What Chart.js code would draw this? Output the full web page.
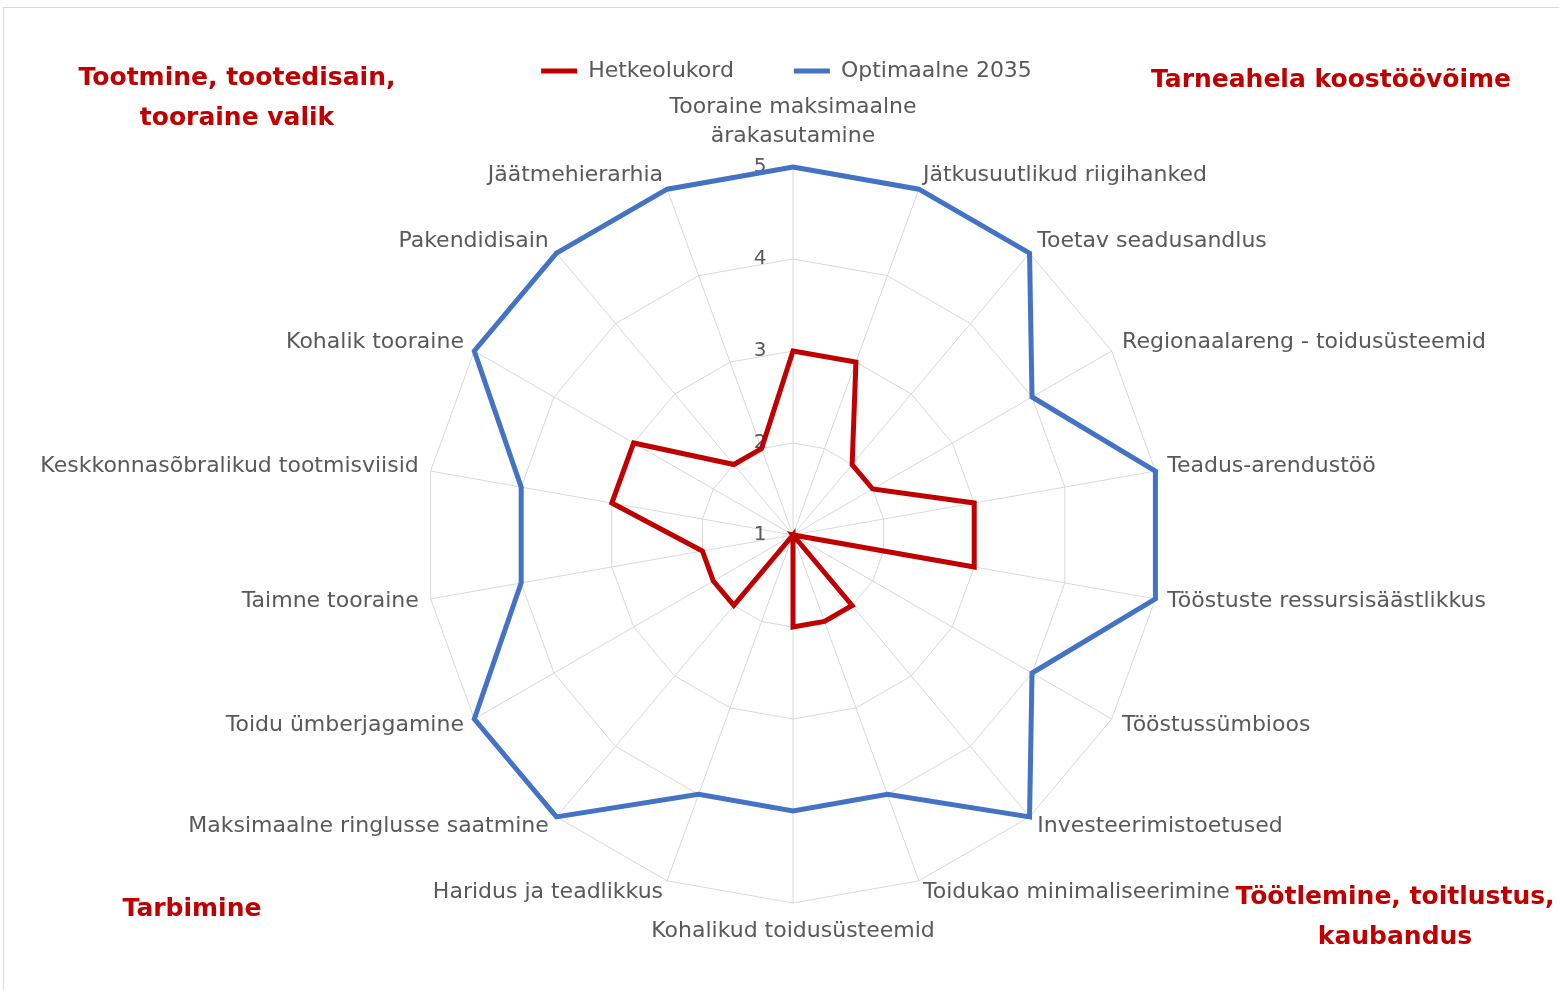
<!DOCTYPE html>
<html><head><meta charset="utf-8">
<script src="https://cdn.jsdelivr.net/npm/chart.js@4"></script>
<style>
html,body{margin:0;padding:0;background:#fff;}
#wrap{position:relative;width:1559px;height:990px;overflow:hidden;background:#fff;}
#frame{position:absolute;left:3px;top:7px;width:1600px;height:1000px;border:1px solid #d9d9d9;box-sizing:border-box;}
canvas{position:absolute;left:0;top:0;}
</style></head><body>
<div id="wrap"><div id="frame"></div><canvas id="c" width="1559" height="990"></canvas></div>
<script>
// ---------- data ----------
const categories = [
  ["Tooraine maksimaalne", "ärakasutamine"],
  "Jätkusuutlikud riigihanked",
  "Toetav seadusandlus",
  "Regionaalareng - toidusüsteemid",
  "Teadus-arendustöö",
  "Tööstuste ressursisäästlikkus",
  "Tööstussümbioos",
  "Investeerimistoetused",
  "Toidukao minimaliseerimine",
  "Kohalikud toidusüsteemid",
  "Haridus ja teadlikkus",
  "Maksimaalne ringlusse saatmine",
  "Toidu ümberjagamine",
  "Taimne tooraine",
  "Keskkonnasõbralikud tootmisviisid",
  "Kohalik tooraine",
  "Pakendidisain",
  "Jäätmehierarhia"
];
const hetkeolukord   = [3, 3, 2, 2, 3, 3, 1, 2, 2, 2, 1, 2, 2, 2, 3, 3, 2, 2];
const optimaalne2035 = [5, 5, 5, 4, 5, 5, 4, 5, 4, 4, 4, 5, 5, 4, 4, 5, 5, 5];
const seriesNames = ["Hetkeolukord", "Optimaalne 2035"];
const tickMin = 1, tickMax = 5, tickStep = 1;
const cornerTitles = [
  ["Tootmine, tootedisain,", "tooraine valik"],
  ["Tarneahela koostöövõime"],
  ["Tarbimine"],
  ["Töötlemine, toitlustus,", "kaubandus"]
];

// ---------- layout / style ----------
const CX = 793, CY = 535, R = 368;
const FONT = '"DejaVu Sans", sans-serif';
const GRAY = '#595959';
const RED = '#C00000', BLUE = '#4472C4';
const cornerPos = [[237, 78], [1331, 80], [192, 909], [1395, 897]];

const tickLabelPlugin = {
  id: 'tickLabels',
  beforeDatasetsDraw(chart) {
    const s = chart.scales.r, ctx = chart.ctx;
    ctx.save();
    ctx.font = '20px ' + FONT;
    ctx.fillStyle = GRAY;
    ctx.textAlign = 'center';
    ctx.textBaseline = 'middle';
    s.ticks.forEach(t => {
      const d = s.getDistanceFromCenterForValue(t.value);
      ctx.fillText(String(t.value), s.xCenter - 33, s.yCenter - d);
    });
    ctx.restore();
  }
};

const pointLabelPlugin = {
  id: 'pointLabels2',
  afterDatasetsDraw(chart) {
    const s = chart.scales.r, ctx = chart.ctx;
    const n = categories.length;
    ctx.save();
    ctx.font = '22px ' + FONT;
    ctx.fillStyle = GRAY;
    categories.forEach((lab, i) => {
      const deg = Math.round(i * 360 / n);
      const p = s.getPointPosition(i, s.drawingArea + (deg === 0 ? 20 : deg === 180 ? 17 : 12));
      let align = 'left', base = 'middle';
      if (deg === 0) { align = 'center'; base = 'bottom'; }
      else if (deg === 180) { align = 'center'; base = 'top'; }
      else if (deg > 180) align = 'right';
      ctx.textAlign = align;
      ctx.textBaseline = base;
      const lines = Array.isArray(lab) ? lab : [lab];
      const lh = 29;
      const dy = (base === 'middle' && (deg < 90 || deg > 270)) ? -3 : 0;
      lines.forEach((t, k) => {
        let y = p.y + dy;
        if (base === 'bottom') y = p.y - (lines.length - 1 - k) * lh;
        else if (base === 'top') y = p.y + k * lh;
        else y = p.y + dy + (k - (lines.length - 1) / 2) * lh;
        ctx.fillText(t, p.x, y);
      });
    });
    ctx.restore();
  }
};

const cornerPlugin = {
  id: 'corners',
  afterDraw(chart) {
    const ctx = chart.ctx;
    ctx.save();
    ctx.font = 'bold 25px ' + FONT;
    ctx.fillStyle = RED;
    ctx.textAlign = 'center';
    ctx.textBaseline = 'middle';
    cornerTitles.forEach((lines, i) => {
      const [x, y] = cornerPos[i];
      lines.forEach((t, k) => ctx.fillText(t, x, y + k * 40));
    });
    ctx.restore();
  }
};

new Chart(document.getElementById('c'), {
  type: 'radar',
  data: {
    labels: categories,
    datasets: [
      { label: seriesNames[0], data: hetkeolukord, borderColor: RED, backgroundColor: RED,
        borderWidth: 5, fill: false, pointRadius: 0, pointHoverRadius: 0, tension: 0 },
      { label: seriesNames[1], data: optimaalne2035, borderColor: BLUE, backgroundColor: BLUE,
        borderWidth: 5, fill: false, pointRadius: 0, pointHoverRadius: 0, tension: 0 }
    ]
  },
  options: {
    responsive: false,
    animation: false,
    devicePixelRatio: 1,
    layout: { padding: { top: 0, left: 14 } },
    elements: { line: { borderJoinStyle: 'miter' } },
    scales: {
      r: {
        min: tickMin, max: tickMax,
        ticks: { stepSize: tickStep, display: false },
        grid: { color: '#D9D9D9', lineWidth: 1 },
        angleLines: { color: '#D9D9D9', lineWidth: 1 },
        pointLabels: { display: false },
        afterFit(scale) { scale.xCenter = CX; scale.yCenter = CY; scale.drawingArea = R; }
      }
    },
    plugins: {
      tooltip: { enabled: false },
      legend: {
        position: 'top',
        labels: {
          boxWidth: 36, boxHeight: 5, padding: 60,
          color: GRAY, font: { size: 22, family: FONT },
          generateLabels(chart) {
            const items = Chart.defaults.plugins.legend.labels.generateLabels(chart);
            items.forEach(it => { it.fillStyle = it.strokeStyle; it.lineWidth = 0; });
            return items;
          }
        }
      }
    }
  },
  plugins: [tickLabelPlugin, pointLabelPlugin, cornerPlugin]
});
</script>
</body></html>
